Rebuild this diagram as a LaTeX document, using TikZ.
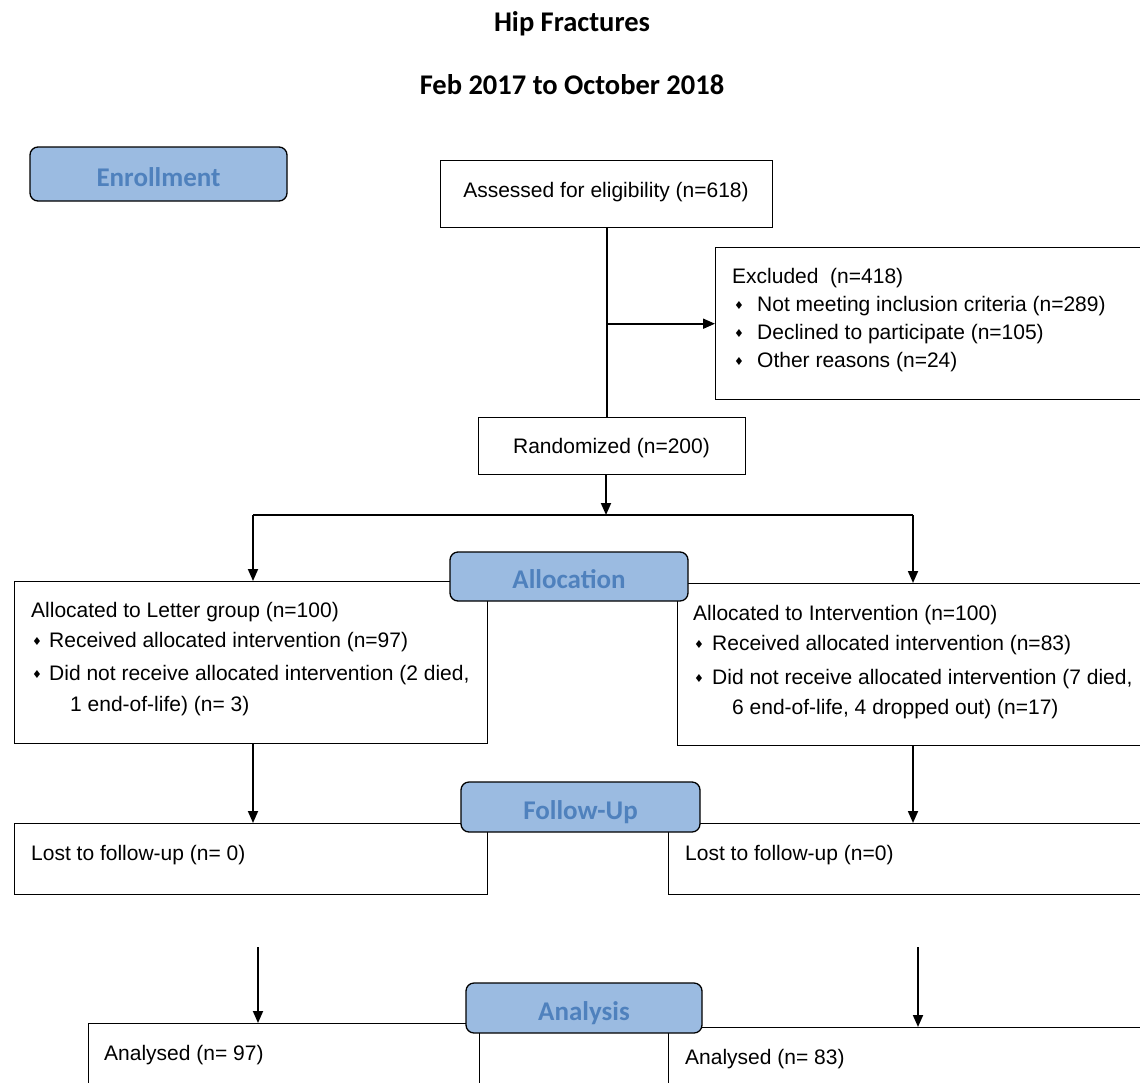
\documentclass[tikz,border=0pt]{standalone}
\usepackage{fontspec}
\setmainfont{Liberation Sans}
\newfontfamily\carl{Carlito}
\newfontfamily\dejavu{DejaVu Sans}
\usetikzlibrary{arrows.meta}
\definecolor{stagefill}{HTML}{9BBBE1}
\definecolor{stagetext}{HTML}{4F81BD}
\newcommand\bul[1]{\makebox[#1][l]{\raisebox{2pt}{\fontsize{11}{11}\selectfont\dejavu ♦}}}
\begin{document}
\begin{tikzpicture}[x=1pt,y=-1pt,
  box/.style={draw, line width=1.4pt, fill=white, inner sep=0pt, anchor=north west},
  stage/.style={draw, line width=1.3pt, fill=stagefill, rounded corners=8pt, inner sep=0pt, text=stagetext, text height=24pt, text depth=0pt, font=\carl\bfseries\fontsize{27}{27}\selectfont},
  txt/.style={anchor=base west, inner sep=0pt, font=\fontsize{21}{21}\selectfont},
  ctxt/.style={txt, anchor=base},
  ttl/.style={anchor=base, inner sep=0pt, font=\carl\bfseries\fontsize{28.5}{28.5}\selectfont},
  arr/.style={line width=1.8pt, -{Triangle[length=12pt,width=10pt]}},
  con/.style={line width=1.8pt}]
\useasboundingbox (0,0) rectangle (1140,1082);
\clip (0,0) rectangle (1140,1082);
\fill[white] (0,0) rectangle (1140,1082);

% titles
\node[ttl] (title1) at (572,31) {Hip Fractures};
\node[ttl] (title2) at (572,94) {Feb 2017 to October 2018};

% boxes
\node[box, minimum width=332pt, minimum height=67pt] (assess) at (440,160) {};
\node[box, minimum width=450pt, minimum height=152pt] (excl) at (715,247) {};
\node[box, minimum width=267pt, minimum height=57pt] (rand) at (478,417) {};
\node[box, minimum width=473pt, minimum height=162pt] (allocL) at (14,581) {};
\node[box, minimum width=480pt, minimum height=162pt] (allocR) at (677,583) {};
\node[box, minimum width=473pt, minimum height=71pt] (lostL) at (14,823) {};
\node[box, minimum width=490pt, minimum height=71pt] (lostR) at (668,823) {};
\node[box, minimum width=391pt, minimum height=80pt] (anL) at (88,1023) {};
\node[box, minimum width=490pt, minimum height=80pt] (anR) at (668,1027) {};

% connectors
\coordinate (split) at (606,515);
\coordinate (brL) at (253,515);
\coordinate (brR) at (913,515);
\coordinate (fL) at (258,947);
\coordinate (fR) at (918,947);
\draw[con] (assess.south) -- (assess.south |- rand.north);
\draw[arr] (excl.west -| split) -- (excl.west);
\draw[arr] (rand.south -| split) -- (split);
\draw[con] (brL) -- (brR);
\draw[arr] (brL) -- (brL |- allocL.north);
\draw[arr] (brR) -- (brR |- allocR.north);
\draw[arr] (allocL.south -| brL) -- (brL |- lostL.north);
\draw[arr] (allocR.south -| brR) -- (brR |- lostR.north);
\draw[arr] (fL) -- (fL |- anL.north);
\draw[arr] (fR) -- (fR |- anR.north);

% stage labels
\node[stage, minimum width=257pt, minimum height=54pt] (enroll) at (158.5,174) {Enrollment};
\node[stage, minimum width=238pt, minimum height=49pt] (allocS) at (569,576.5) {Allocation};
\node[stage, minimum width=239pt, minimum height=50pt] (follow) at (580.5,807) {Follow-Up};
\node[stage, minimum width=236pt, minimum height=50pt] (analysis) at (584,1008) {Analysis};

% texts
\node[ctxt] (t1) at (606,197) {Assessed for eligibility (n=618)};
\node[txt] (t2) at (732,283) {Excluded\ \ (n=418)};
\node[txt] (t3) at (734,311) {\bul{23pt}Not meeting inclusion criteria (n=289)};
\node[txt] (t4) at (734,339) {\bul{23pt}Declined to participate (n=105)};
\node[txt] (t5) at (734,367) {\bul{23pt}Other reasons (n=24)};
\node[ctxt] (t6) at (611.5,453) {Randomized (n=200)};
\node[txt] (t7) at (31,617) {Allocated to Letter group (n=100)};
\node[txt] (t8) at (32,647) {\bul{17pt}Received allocated intervention (n=97)};
\node[txt] (t9) at (32,680) {\bul{17pt}Did not receive allocated intervention (2 died,};
\node[txt] (t10) at (70,711) {1 end-of-life) (n= 3)};
\node[txt] (t11) at (693,620) {Allocated to Intervention (n=100)};
\node[txt] (t12) at (694,650) {\bul{18pt}Received allocated intervention (n=83)};
\node[txt] (t13) at (694,684) {\bul{18pt}Did not receive allocated intervention (7 died,};
\node[txt] (t14) at (732,714) {6 end-of-life, 4 dropped out) (n=17)};
\node[txt] (t15) at (31,860) {Lost to follow-up (n= 0)};
\node[txt] (t16) at (685,860) {Lost to follow-up (n=0)};
\node[txt] (t17) at (104,1060) {Analysed (n= 97)};
\node[txt] (t18) at (685,1064) {Analysed (n= 83)};
\end{tikzpicture}
\end{document}
